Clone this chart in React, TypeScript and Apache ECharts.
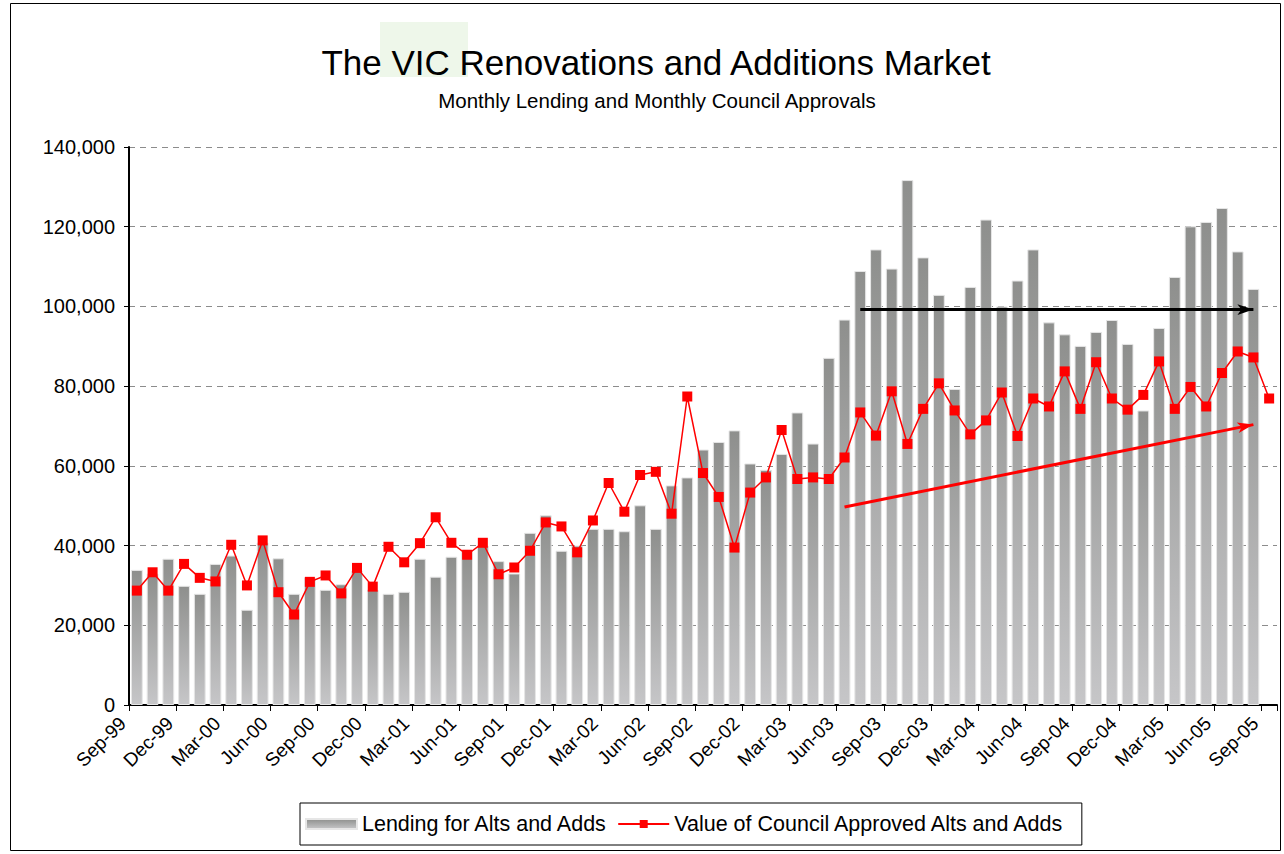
import React, { useEffect, useRef } from "react";
import * as echarts from "echarts";

const months = [
  "Sep-99", "Oct-99", "Nov-99", "Dec-99",
  "Jan-00", "Feb-00", "Mar-00", "Apr-00", "May-00", "Jun-00", "Jul-00", "Aug-00", "Sep-00", "Oct-00", "Nov-00", "Dec-00",
  "Jan-01", "Feb-01", "Mar-01", "Apr-01", "May-01", "Jun-01", "Jul-01", "Aug-01", "Sep-01", "Oct-01", "Nov-01", "Dec-01",
  "Jan-02", "Feb-02", "Mar-02", "Apr-02", "May-02", "Jun-02", "Jul-02", "Aug-02", "Sep-02", "Oct-02", "Nov-02", "Dec-02",
  "Jan-03", "Feb-03", "Mar-03", "Apr-03", "May-03", "Jun-03", "Jul-03", "Aug-03", "Sep-03", "Oct-03", "Nov-03", "Dec-03",
  "Jan-04", "Feb-04", "Mar-04", "Apr-04", "May-04", "Jun-04", "Jul-04", "Aug-04", "Sep-04", "Oct-04", "Nov-04", "Dec-04",
  "Jan-05", "Feb-05", "Mar-05", "Apr-05", "May-05", "Jun-05", "Jul-05", "Aug-05", "Sep-05",
];

const lending = [
  33900, 33000, 36700, 29900, 27900, 35400, 37500, 23900, 40800, 36800, 27900, 32000,
  28900, 30300, 33700, 28900, 27900, 28400, 36700, 32200, 37200, 38800, 40000, 36100,
  33000, 43200, 47600, 38700, 40000, 44200, 44200, 43600, 50100, 44200, 55100, 57100,
  64100, 66000, 68900, 60600, 59000, 63000, 73400, 65600, 87100, 96700, 108900, 114300,
  109500, 131700, 112300, 102900, 79300, 104900, 121800, 100000, 106500, 114300, 96000, 93000,
  90100, 93600, 96600, 90600, 73900, 94600, 107400, 120100, 121200, 124700, 113800, 104400,
  null,
];

const approvals = [
  28700, 33300, 28700, 35400, 31900, 31000, 40200, 30000, 41300, 28300, 22700, 30900,
  32500, 28000, 34400, 29700, 39700, 35800, 40600, 47100, 40700, 37700, 40700, 32800,
  34500, 38700, 45800, 44800, 38300, 46300, 55700, 48500, 57700, 58500, 48000, 77400,
  58200, 52200, 39500, 53300, 57100, 69000, 56700, 57100, 56700, 62100, 73400, 67600,
  78700, 65500, 74300, 80700, 73900, 67900, 71400, 78400, 67500, 76900, 74900, 83700,
  74300, 86000, 76900, 74100, 77800, 86200, 74300, 79800, 74900, 83300, 88700, 87200,
  76900,
];

// annotation arrows, in data units: [category index, value]
const flatArrowFrom = [45.55, 99200];
const flatArrowTo = [70.85, 99200];
const trendArrowFrom = [44.9, 49700];
const trendArrowTo = [70.85, 70350];

const FONT = '"Liberation Sans", Arial, sans-serif';

export default function App() {
  const ref = useRef<HTMLDivElement>(null);

  useEffect(() => {
    if (!ref.current) return;
    const chart = echarts.init(ref.current, null, { renderer: "svg" });
    const option: any = {
      animation: false,
      backgroundColor: "#ffffff",
      textStyle: { fontFamily: FONT },
      graphic: [
        {
          type: "rect",
          z: 0,
          silent: true,
          shape: { x: 10.5, y: 3.5, width: 1270, height: 847 },
          style: { fill: "none", stroke: "#000", lineWidth: 1 },
        },
        {
          type: "rect",
          z: 1,
          silent: true,
          shape: { x: 380, y: 22, width: 88, height: 55 },
          style: { fill: "#eef7ea" },
        },
        {
          type: "text",
          z: 2,
          x: 656,
          y: 62,
          style: {
            text: "The VIC Renovations and Additions Market",
            fontSize: 35,
            fontFamily: FONT,
            fill: "#000",
            align: "center",
            verticalAlign: "middle",
          },
        },
        {
          type: "text",
          z: 2,
          x: 657,
          y: 100,
          style: {
            text: "Monthly Lending and Monthly Council Approvals",
            fontSize: 20.5,
            fontFamily: FONT,
            fill: "#000",
            align: "center",
            verticalAlign: "middle",
          },
        },
      ],
      grid: { left: 129, right: 7, top: 147, bottom: 149, containLabel: false },
      legend: {
        left: 300,
        top: 803,
        orient: "horizontal",
        itemWidth: 51,
        itemHeight: 10,
        itemGap: 9,
        padding: [10, 16, 10, 5],
        borderColor: "#000",
        borderWidth: 1,
        textStyle: { fontSize: 21.5, color: "#000", fontFamily: FONT },
        data: [
          { name: "Lending for Alts and Adds", icon: "rect" },
          { name: "Value of Council Approved Alts and Adds" },
        ],
      },
      xAxis: {
        type: "category",
        data: months,
        boundaryGap: true,
        axisLine: { show: true, lineStyle: { color: "#000", width: 2 } },
        axisTick: { show: true, interval: 2, length: 6, lineStyle: { color: "#000", width: 1 } },
        axisLabel: {
          interval: 2,
          rotate: 45,
          fontSize: 19,
          color: "#000",
          fontFamily: FONT,
          margin: 1,
          padding: [0, 20, 0, 0],
        },
        splitLine: { show: false },
      },
      yAxis: {
        type: "value",
        min: 0,
        max: 140000,
        interval: 20000,
        axisLine: { show: true, lineStyle: { color: "#000", width: 2 } },
        axisTick: { show: true, length: 5, lineStyle: { color: "#000" } },
        axisLabel: {
          fontSize: 20,
          color: "#000",
          fontFamily: FONT,
          margin: 14,
          formatter: (v: number) => v.toLocaleString("en-US"),
        },
        splitLine: { show: true, lineStyle: { color: "#8c8c8c", type: [6, 5], width: 1 } },
      },
      series: [
        {
          type: "bar",
          name: "Lending for Alts and Adds",
          data: lending,
          barCategoryGap: "25%",
          itemStyle: {
            color: new echarts.graphic.LinearGradient(0, 0, 0, 1, [
              { offset: 0, color: "#8e8f8d" },
              { offset: 1, color: "#c6c6c8" },
            ]),
            borderColor: "#e6e6e6",
            borderWidth: 1,
          },
          emphasis: { disabled: true },
        },
        {
          type: "line",
          name: "Value of Council Approved Alts and Adds",
          data: approvals,
          symbol: "rect",
          symbolSize: 10,
          lineStyle: { color: "#ff0000", width: 1.5 },
          itemStyle: { color: "#ff0000" },
          z: 3,
          emphasis: { disabled: true },
          markLine: {
            silent: true,
            animation: false,
            symbol: ["none", "arrow"],
            symbolSize: [8, 16],
            label: { show: false },
            emphasis: { disabled: true },
            data: [
              [
                { coord: flatArrowFrom, lineStyle: { color: "#000", width: 3, type: "solid" } },
                { coord: flatArrowTo },
              ],
              [
                { coord: trendArrowFrom, lineStyle: { color: "#ff0000", width: 3, type: "solid" } },
                { coord: trendArrowTo },
              ],
            ],
          },
        },
      ],
    };
    chart.setOption(option);
    return () => chart.dispose();
  }, []);

  return (
    <div
      ref={ref}
      style={{ position: "absolute", left: 0, top: 0, width: 1284, height: 854 }}
    />
  );
}
